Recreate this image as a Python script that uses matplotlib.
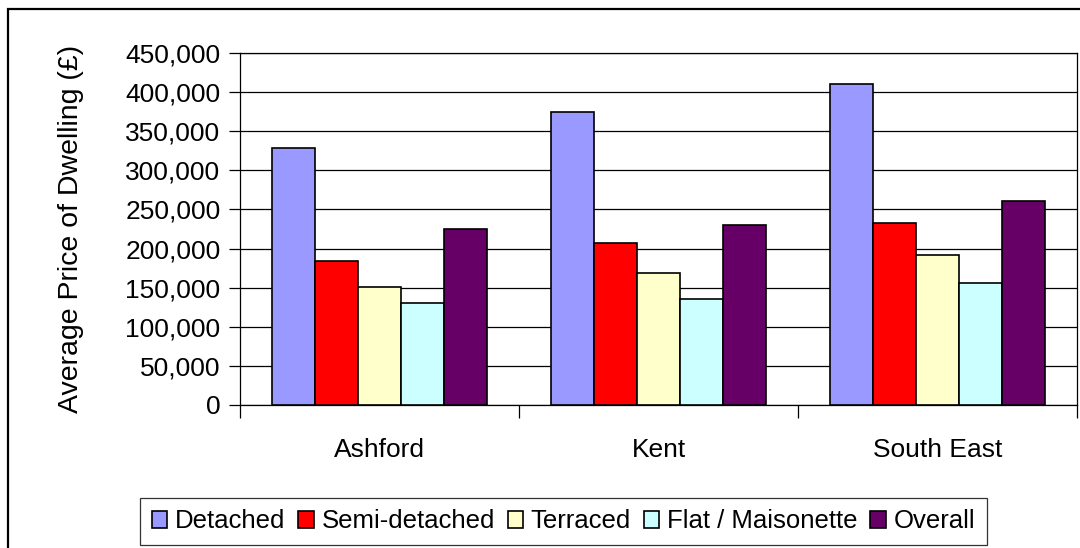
import numpy as np
import matplotlib.pyplot as plt
from matplotlib.patches import Rectangle
from matplotlib.ticker import FuncFormatter, FixedLocator

# ==========================
# DATA
# ==========================

areas = ["Ashford", "Kent", "South East"]
types = ["Detached", "Semi-detached", "Terraced", "Flat / Maisonette", "Overall"]
colours = ["#9999FF", "#FF0000", "#FFFFCC", "#CCFFFF", "#660066"]

detached = [328000, 374000, 410000]
semi = [184000, 207500, 233000]
terraced = [150500, 169000, 191500]
flat = [130500, 135500, 156000]
overall = [225000, 230000, 261000]

series = [detached, semi, terraced, flat, overall]

# ==========================
# PLOT
# ==========================

plt.rcParams["font.family"] = ["Liberation Sans", "DejaVu Sans"]

fig = plt.figure(figsize=(10.8, 5.48), dpi=100)
ax = fig.add_axes([240 / 1080, 1 - 405 / 548, 837 / 1080, 352 / 548])

x = np.arange(len(areas))
w = 1 / 6.5

for i, vals in enumerate(series):
    ax.bar(
        x + (i - 2) * w,
        vals,
        width=w,
        color=colours[i],
        edgecolor="black",
        linewidth=1.2,
        label=types[i],
        zorder=3
    )

ax.set_xlim(-0.5, 2.5)
ax.set_ylim(0, 450000)
ax.set_yticks(np.arange(0, 450001, 50000))
ax.yaxis.set_major_formatter(FuncFormatter(lambda v, p: f"{int(v):,}"))
ax.grid(axis="y", color="black", linewidth=0.9, zorder=0)

ax.set_xticks(x)
ax.set_xticklabels(areas)
ax.xaxis.set_minor_locator(FixedLocator([-0.5, 0.5, 1.5, 2.5]))
ax.tick_params(axis="x", which="major", length=0, pad=24, labelsize=19)
ax.tick_params(axis="x", which="minor", length=9, width=0.9)
ax.tick_params(axis="y", length=8, width=0.9, labelsize=19, pad=6)

for s in ax.spines.values():
    s.set_linewidth(0.9)
    s.set_color("black")

ax.set_ylabel("Average Price of Dwelling (£)", fontsize=20.5, labelpad=30)

leg = fig.legend(
    loc="center",
    bbox_to_anchor=(563.5 / 1080, 1 - 521.5 / 548),
    ncol=5,
    fontsize=18.5,
    frameon=True,
    fancybox=False,
    edgecolor="black",
    handlelength=0.6,
    handleheight=0.6,
    handletextpad=0.3,
    columnspacing=0.5,
    borderpad=0.45,
    borderaxespad=0
)
leg.get_frame().set_linewidth(0.9)

fig.add_artist(Rectangle(
    (8 / 1080, -0.1), 1.2, 1.1 - 9 / 548,
    transform=fig.transFigure,
    fill=False,
    edgecolor="black",
    linewidth=1.6
))

plt.savefig("out.png", dpi=100)
